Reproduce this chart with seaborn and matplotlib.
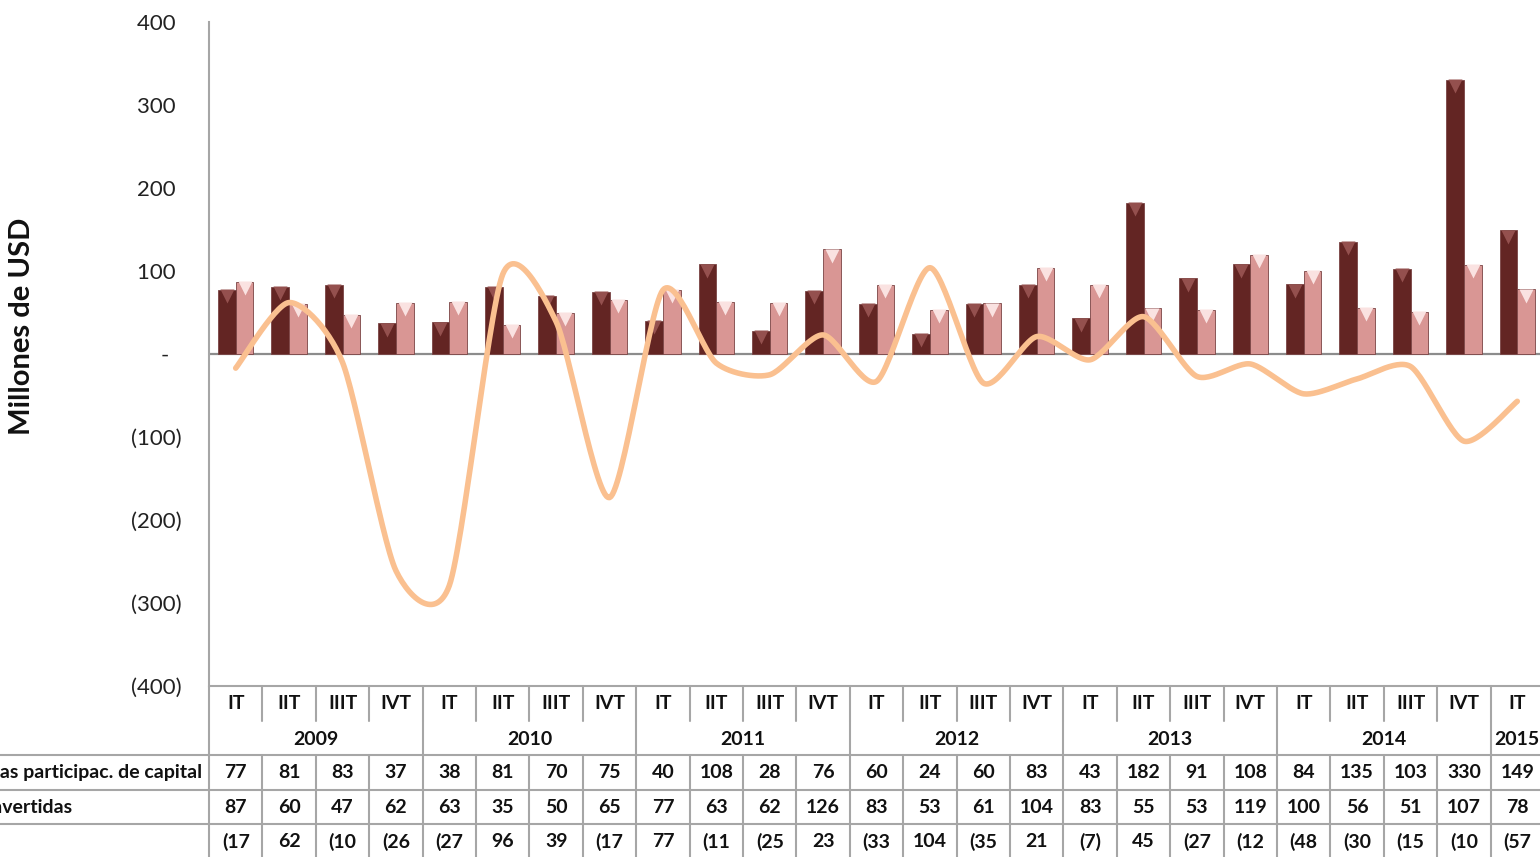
import matplotlib
matplotlib.use("Agg")
import matplotlib.pyplot as plt
import matplotlib.transforms as mtransforms
import numpy as np
import pandas as pd
import seaborn as sns
from matplotlib.lines import Line2D

# --- data (millones de USD) ---
years = ["2009"] * 4 + ["2010"] * 4 + ["2011"] * 4 + ["2012"] * 4 + ["2013"] * 4 + ["2014"] * 4 + ["2015"]
quarters = ["IT", "IIT", "IIIT", "IVT"] * 6 + ["IT"]
acciones = [77, 81, 83, 37, 38, 81, 70, 75, 40, 108, 28, 76, 60, 24, 60, 83,
            43, 182, 91, 108, 84, 135, 103, 330, 149]
utilidades = [87, 60, 47, 62, 63, 35, 50, 65, 77, 63, 62, 126, 83, 53, 61, 104,
              83, 55, 53, 119, 100, 56, 51, 107, 78]
otro = [-17, 62, -10, -261, -279, 96, 39, -173, 77, -11, -25, 23, -33, 104, -35, 21,
        -7, 45, -27, -12, -48, -30, -15, -105, -57]
series_names = ["Acciones y otras participac. de capital", "Utilidades reinvertidas", "Otro capital"]
yticks = [400, 300, 200, 100, 0, -100, -200, -300, -400]

DARK = "#632523"
PINK = "#D99694"
LINE = "#FAC090"
GRID = "#A6A6A6"

periodos = [f"{q} {y}" for q, y in zip(quarters, years)]
df = pd.DataFrame({
    "periodo": periodos * 2,
    "serie": [series_names[0]] * len(periodos) + [series_names[1]] * len(periodos),
    "valor": acciones + utilidades,
})

sns.set_theme(style="white")
plt.rcParams["font.family"] = ["Lato", "DejaVu Sans"]

fig = plt.figure(figsize=(15.4, 8.57), dpi=100)
W, H = 1540, 857
ax_left, ax_top, ax_bottom = 209, 22, 686
col_w = 53.4
n = len(periodos)
ax_w = col_w * n
ax = fig.add_axes([ax_left / W, 1 - ax_bottom / H, ax_w / W, (ax_bottom - ax_top) / H])

sns.barplot(data=df, x="periodo", y="valor", hue="serie", order=periodos,
            palette=[DARK, PINK], width=0.66, saturation=1, legend=False,
            edgecolor="#7a4444", linewidth=0.6, ax=ax, zorder=2)

# bevel triangles at bar tops
off = mtransforms.ScaledTranslation(0, -4.5 / 72, fig.dpi_scale_trans)
for p in ax.patches:
    h = p.get_height()
    if not np.isfinite(h) or h == 0:
        continue
    col = "#94504e" if p.get_facecolor()[0] < 0.6 else "#fae2e1"
    ax.plot(p.get_x() + p.get_width() / 2, h, marker="v", ms=10, color=col,
            mec="none", transform=ax.transData + off, zorder=3)

# smoothed line (Bezier through the points, like Excel's smoothed line)
tension = 0.75
xs = np.arange(n, dtype=float)
ys = np.array(otro, dtype=float)
sx, sy = [], []
for i in range(n - 1):
    p0 = np.array([xs[max(i - 1, 0)], ys[max(i - 1, 0)]])
    p1 = np.array([xs[i], ys[i]])
    p2 = np.array([xs[i + 1], ys[i + 1]])
    p3 = np.array([xs[min(i + 2, n - 1)], ys[min(i + 2, n - 1)]])
    c1 = p1 + tension * (p2 - p0) / 6
    c2 = p2 - tension * (p3 - p1) / 6
    t = np.linspace(0, 1, 30)[:, None]
    seg = (1 - t) ** 3 * p1 + 3 * (1 - t) ** 2 * t * c1 + 3 * (1 - t) * t ** 2 * c2 + t ** 3 * p2
    sx.extend(seg[:, 0])
    sy.extend(seg[:, 1])
ax.plot(sx, sy, color=LINE, lw=4, solid_capstyle="round", zorder=4)

ax.axhline(0, color="#8c8c8c", lw=1.6, zorder=1)
ax.set_xlim(-0.5, n - 0.5)
ax.set_ylim(-400, 400)
ax.set_xticks([])
ax.set_xlabel("")
ax.set_ylabel("")


def acc(v):
    if v == 0:
        return "-  "
    if v < 0:
        return f"({abs(v)})"
    return f"{v} "


ax.set_yticks(yticks)
ax.set_yticklabels([acc(v) for v in yticks], fontsize=16, color="#222222")
ax.tick_params(axis="y", length=0, pad=20)
for s in ["top", "right", "bottom"]:
    ax.spines[s].set_visible(False)
ax.spines["left"].set_color(GRID)
ax.spines["left"].set_linewidth(1.5)

fig.text(22 / W, 1 - 326 / H, "Millones de USD", rotation=90, ha="center", va="center",
         fontsize=21, fontweight="bold", color="#111111")

# --- data table under the axis ---
tr = mtransforms.blended_transform_factory(ax.transData, ax.transAxes)
rh = 34.6 / (ax_bottom - ax_top)
x_fig0 = -ax_left / ax_w  # axes fraction of the figure's left edge


def hline(y, x0_axes):
    ax.add_line(Line2D([x0_axes, 1], [y, y], transform=ax.transAxes, color=GRID, lw=1.5, clip_on=False))


def vline(x, y0, y1):
    ax.add_line(Line2D([x, x], [y0, y1], transform=tr, color=GRID, lw=1.5, clip_on=False))


hline(0, 0)
for k in (2, 3, 4):
    hline(-k * rh, x_fig0)
ax.add_line(Line2D([0, 0], [0, -5.2 * rh], transform=ax.transAxes, color=GRID, lw=1.5, clip_on=False))

txt = dict(transform=tr, ha="center", va="center", fontsize=14, fontweight="bold", color="#111111", clip_on=False)
for i in range(n):
    vline(i + 0.5, 0, -rh)
    vline(i + 0.5, -2 * rh, -5.2 * rh)
    ax.text(i, -0.5 * rh, quarters[i], **txt)
    ax.text(i, -2.5 * rh, str(acciones[i]), **txt)
    ax.text(i, -3.5 * rh, str(utilidades[i]), **txt)
    ax.text(i, -4.5 * rh, acc(otro[i]).strip()[:3], **txt)

uniq = list(dict.fromkeys(years))
for yv in uniq:
    idx = [i for i, y in enumerate(years) if y == yv]
    ax.text((idx[0] + idx[-1]) / 2, -1.55 * rh, yv, **txt)
    vline(idx[-1] + 0.5, -rh, -2 * rh)

lab_kw = dict(transform=ax.transAxes, va="center", fontsize=14, fontweight="bold", color="#111111", clip_on=False)
t1 = ax.text(-7 / ax_w, -2.5 * rh, series_names[0], ha="right", **lab_kw)
fig.canvas.draw()
bb = t1.get_window_extent(fig.canvas.get_renderer())
x_left = ax.transAxes.inverted().transform((bb.x0, 0))[0]
ax.text(x_left, -3.5 * rh, series_names[1], ha="left", **lab_kw)
ax.text(x_left, -4.5 * rh, series_names[2], ha="left", **lab_kw)

fig.savefig("out.png", dpi=100)
